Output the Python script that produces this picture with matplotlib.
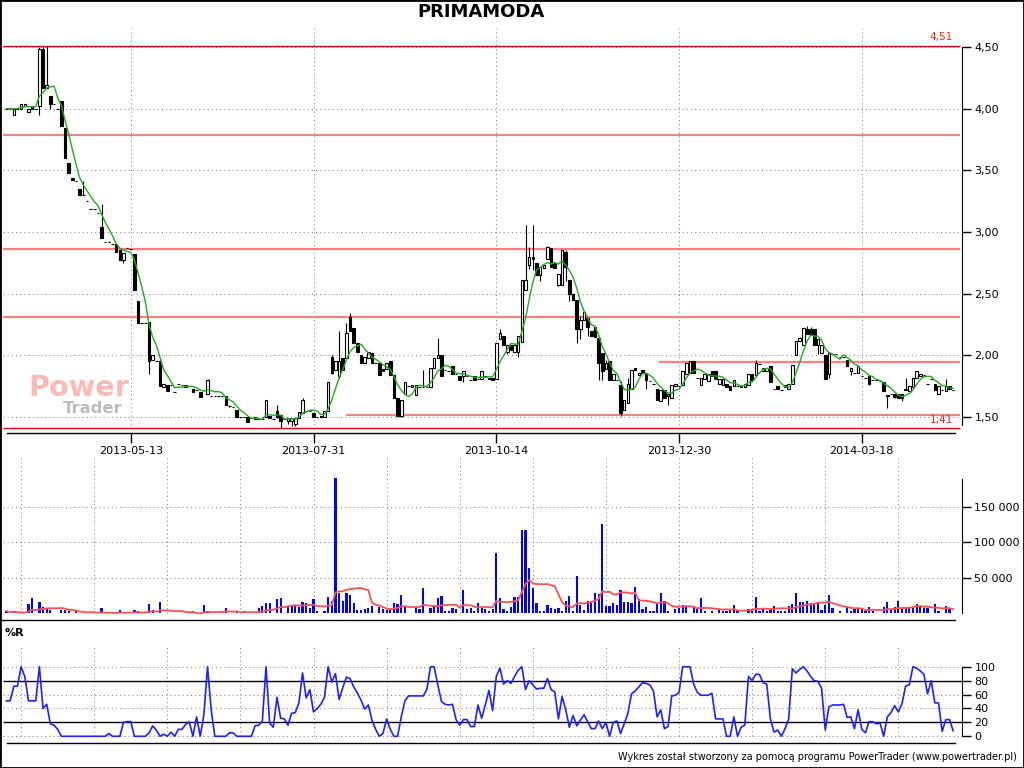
import numpy as np
import pandas as pd
import matplotlib
matplotlib.use('Agg')
import matplotlib.pyplot as plt
from matplotlib.lines import Line2D
from matplotlib.patches import Rectangle

# Daily candles (one per session)
opens = [
    4.00, 4.00, 3.95, 4.00, 4.00, 4.02, 3.97, 4.02, 4.00, 4.02,
    4.48, 4.17, 4.10, 4.04, 4.00, 4.06, 3.84, 3.56, 3.44, 3.41,
    3.35, 3.30, 3.25, 3.19, 3.19, 3.15, 3.04, 2.92, 2.92, 2.90,
    2.90, 2.85, 2.77, 2.87, 2.86, 2.82, 2.44, 2.26, 2.26, 2.27,
    1.96, 1.95, 1.95, 1.74, 1.76, 1.76, 1.70, 1.77, 1.76, 1.74,
    1.75, 1.73, 1.72, 1.70, 1.72, 1.69, 1.67, 1.67, 1.67, 1.67,
    1.67, 1.59, 1.58, 1.56, 1.50, 1.50, 1.50, 1.49, 1.48, 1.48,
    1.48, 1.50, 1.51, 1.48, 1.55, 1.52, 1.48, 1.47, 1.47, 1.44,
    1.49, 1.53, 1.55, 1.55, 1.53, 1.50, 1.51, 1.50, 1.55, 1.99,
    1.88, 1.83, 1.98, 1.98, 2.31, 2.22, 2.10, 2.00, 1.94, 1.98,
    2.02, 1.94, 1.94, 1.89, 1.89, 1.95, 1.84, 1.65, 1.51, 1.69,
    1.75, 1.74, 1.68, 1.74, 1.74, 1.74, 1.74, 1.90, 1.98, 2.00,
    1.88, 1.87, 1.91, 1.85, 1.83, 1.83, 1.83, 1.80, 1.83, 1.81,
    1.81, 1.83, 1.81, 1.82, 1.81, 2.13, 2.16, 2.03, 2.08, 2.03,
    2.03, 2.11, 2.53, 2.73, 2.80, 2.75, 2.65, 2.71, 2.78, 2.87,
    2.75, 2.57, 2.57, 2.84, 2.61, 2.50, 2.45, 2.21, 2.29, 2.30,
    2.20, 2.23, 2.14, 2.02, 1.89, 1.95, 1.80, 1.80, 1.76, 1.56,
    1.61, 1.73, 1.90, 1.84, 1.88, 1.85, 1.79, 1.77, 1.73, 1.63,
    1.72, 1.67, 1.65, 1.75, 1.75, 1.76, 1.85, 1.86, 1.95, 1.82,
    1.76, 1.81, 1.79, 1.87, 1.87, 1.77, 1.76, 1.77, 1.75, 1.75,
    1.75, 1.75, 1.74, 1.76, 1.85, 1.84, 1.93, 1.87, 1.87, 1.91,
    1.73, 1.75, 1.72, 1.74, 1.73, 1.77, 2.00, 2.12, 2.08, 2.21,
    2.21, 2.21, 2.08, 2.02, 2.00, 1.85, 2.01, 2.01, 1.99, 1.99,
    1.96, 1.87, 1.86, 1.86, 1.83, 1.82, 1.83, 1.80, 1.80, 1.79,
    1.78, 1.68, 1.69, 1.69, 1.69, 1.69, 1.72, 1.71, 1.74, 1.82,
    1.83, 1.84, 1.77, 1.81, 1.77, 1.69, 1.72, 1.71, 1.75, 1.72,
]
highs = [
    4.00, 4.00, 4.00, 4.00, 4.04, 4.04, 4.00, 4.02, 4.00, 4.50,
    4.50, 4.51, 4.10, 4.04, 4.00, 4.06, 3.84, 3.56, 3.44, 3.41,
    3.35, 3.41, 3.25, 3.19, 3.19, 3.15, 3.23, 2.92, 2.93, 2.90,
    2.90, 2.85, 2.83, 2.87, 2.86, 2.82, 2.44, 2.26, 2.26, 2.27,
    2.00, 1.95, 1.95, 1.77, 1.76, 1.76, 1.70, 1.77, 1.76, 1.76,
    1.75, 1.73, 1.72, 1.70, 1.72, 1.81, 1.67, 1.67, 1.67, 1.67,
    1.67, 1.60, 1.58, 1.56, 1.50, 1.50, 1.50, 1.49, 1.50, 1.48,
    1.48, 1.64, 1.51, 1.48, 1.60, 1.52, 1.48, 1.49, 1.49, 1.49,
    1.54, 1.65, 1.55, 1.55, 1.53, 1.50, 1.51, 1.55, 1.78, 2.00,
    1.95, 2.20, 1.98, 2.26, 2.34, 2.22, 2.10, 2.00, 1.99, 2.03,
    2.02, 1.94, 1.94, 1.89, 1.94, 1.95, 1.84, 1.65, 1.64, 1.78,
    1.75, 1.76, 1.76, 1.74, 1.88, 1.74, 1.90, 1.98, 2.14, 2.00,
    1.88, 1.87, 1.91, 1.85, 1.83, 1.87, 1.83, 1.80, 1.83, 1.81,
    1.87, 1.83, 1.82, 1.82, 2.10, 2.21, 2.16, 2.08, 2.08, 2.08,
    2.16, 2.61, 3.06, 2.88, 3.06, 2.75, 2.72, 2.73, 2.89, 2.87,
    2.75, 2.66, 2.85, 2.85, 2.61, 2.50, 2.45, 2.32, 2.35, 2.30,
    2.20, 2.23, 2.14, 2.02, 1.96, 1.95, 1.85, 1.80, 1.79, 1.64,
    1.82, 1.88, 1.90, 1.86, 1.88, 1.85, 1.79, 1.77, 1.73, 1.72,
    1.72, 1.69, 1.76, 1.77, 1.75, 1.87, 1.94, 1.95, 1.95, 1.82,
    1.82, 1.85, 1.85, 1.87, 1.87, 1.81, 1.81, 1.77, 1.75, 1.80,
    1.75, 1.75, 1.77, 1.85, 1.85, 1.96, 1.93, 1.90, 1.90, 1.91,
    1.73, 1.75, 1.72, 1.76, 1.77, 1.92, 2.12, 2.15, 2.22, 2.24,
    2.23, 2.21, 2.13, 2.08, 2.00, 2.02, 2.01, 2.01, 1.99, 1.99,
    1.96, 1.90, 1.86, 1.91, 1.83, 1.82, 1.83, 1.80, 1.80, 1.79,
    1.78, 1.68, 1.69, 1.69, 1.69, 1.69, 1.82, 1.75, 1.82, 1.87,
    1.85, 1.84, 1.77, 1.81, 1.77, 1.75, 1.72, 1.81, 1.75, 1.72,
]
lows = [
    4.00, 4.00, 3.95, 4.00, 4.00, 4.02, 3.97, 4.00, 4.00, 3.95,
    4.17, 4.17, 4.00, 4.04, 4.00, 3.86, 3.60, 3.48, 3.42, 3.41,
    3.30, 3.30, 3.25, 3.19, 3.19, 3.15, 2.95, 2.92, 2.92, 2.90,
    2.84, 2.77, 2.75, 2.87, 2.86, 2.53, 2.26, 2.26, 2.26, 1.85,
    1.96, 1.95, 1.75, 1.74, 1.71, 1.76, 1.70, 1.77, 1.76, 1.74,
    1.75, 1.70, 1.72, 1.66, 1.72, 1.69, 1.67, 1.67, 1.67, 1.67,
    1.60, 1.58, 1.58, 1.50, 1.50, 1.50, 1.46, 1.49, 1.48, 1.48,
    1.48, 1.50, 1.49, 1.48, 1.49, 1.41, 1.48, 1.44, 1.43, 1.43,
    1.49, 1.53, 1.55, 1.55, 1.50, 1.50, 1.50, 1.50, 1.55, 1.85,
    1.88, 1.82, 1.88, 1.98, 2.20, 2.10, 2.03, 1.94, 1.94, 1.98,
    1.94, 1.94, 1.84, 1.87, 1.89, 1.84, 1.65, 1.51, 1.50, 1.69,
    1.75, 1.74, 1.68, 1.74, 1.74, 1.74, 1.74, 1.90, 1.98, 1.83,
    1.88, 1.87, 1.85, 1.85, 1.80, 1.78, 1.83, 1.80, 1.80, 1.81,
    1.81, 1.83, 1.81, 1.80, 1.81, 2.13, 2.08, 2.01, 2.04, 2.03,
    1.99, 2.11, 2.53, 2.70, 2.69, 2.65, 2.60, 2.71, 2.78, 2.72,
    2.71, 2.56, 2.57, 2.60, 2.44, 2.45, 2.10, 2.13, 2.29, 2.16,
    2.16, 2.15, 1.80, 1.80, 1.89, 1.80, 1.80, 1.80, 1.51, 1.56,
    1.61, 1.73, 1.88, 1.84, 1.86, 1.73, 1.79, 1.77, 1.64, 1.63,
    1.65, 1.60, 1.65, 1.75, 1.75, 1.76, 1.85, 1.86, 1.86, 1.82,
    1.76, 1.81, 1.79, 1.83, 1.81, 1.77, 1.76, 1.74, 1.72, 1.75,
    1.75, 1.74, 1.74, 1.76, 1.80, 1.84, 1.93, 1.87, 1.87, 1.78,
    1.73, 1.73, 1.72, 1.74, 1.73, 1.77, 2.00, 2.12, 2.08, 2.17,
    2.17, 2.08, 2.01, 2.02, 1.81, 1.82, 2.01, 2.01, 1.99, 1.99,
    1.91, 1.84, 1.86, 1.86, 1.83, 1.82, 1.76, 1.80, 1.80, 1.79,
    1.71, 1.57, 1.69, 1.65, 1.65, 1.63, 1.72, 1.71, 1.74, 1.82,
    1.83, 1.84, 1.77, 1.81, 1.72, 1.69, 1.72, 1.71, 1.73, 1.72,
]
closes = [
    4.00, 4.00, 4.00, 4.00, 4.04, 4.04, 4.00, 4.00, 4.00, 4.48,
    4.17, 4.19, 4.04, 4.04, 4.00, 3.86, 3.60, 3.48, 3.42, 3.41,
    3.30, 3.30, 3.25, 3.19, 3.19, 3.15, 2.95, 2.92, 2.92, 2.90,
    2.84, 2.77, 2.83, 2.87, 2.86, 2.53, 2.26, 2.26, 2.26, 1.95,
    2.00, 1.95, 1.75, 1.77, 1.71, 1.76, 1.70, 1.77, 1.76, 1.76,
    1.75, 1.70, 1.72, 1.66, 1.72, 1.80, 1.67, 1.67, 1.67, 1.67,
    1.60, 1.59, 1.58, 1.50, 1.50, 1.50, 1.46, 1.49, 1.50, 1.48,
    1.48, 1.64, 1.49, 1.48, 1.50, 1.47, 1.48, 1.49, 1.49, 1.49,
    1.54, 1.64, 1.55, 1.55, 1.50, 1.50, 1.50, 1.55, 1.78, 1.86,
    1.95, 1.95, 1.88, 2.18, 2.20, 2.10, 2.03, 1.94, 1.99, 2.03,
    1.94, 1.94, 1.84, 1.87, 1.94, 1.84, 1.65, 1.51, 1.64, 1.78,
    1.75, 1.76, 1.76, 1.74, 1.74, 1.74, 1.90, 1.98, 2.00, 1.83,
    1.88, 1.87, 1.85, 1.85, 1.80, 1.87, 1.83, 1.80, 1.80, 1.81,
    1.87, 1.83, 1.82, 1.80, 2.10, 2.18, 2.08, 2.08, 2.04, 2.08,
    2.16, 2.61, 2.61, 2.80, 2.78, 2.65, 2.72, 2.73, 2.88, 2.72,
    2.71, 2.66, 2.85, 2.72, 2.50, 2.45, 2.21, 2.29, 2.35, 2.23,
    2.16, 2.15, 1.94, 1.87, 1.94, 1.80, 1.85, 1.80, 1.53, 1.64,
    1.77, 1.88, 1.88, 1.86, 1.86, 1.80, 1.79, 1.77, 1.64, 1.72,
    1.65, 1.69, 1.76, 1.77, 1.75, 1.87, 1.94, 1.95, 1.86, 1.82,
    1.82, 1.85, 1.85, 1.83, 1.81, 1.81, 1.81, 1.74, 1.72, 1.80,
    1.75, 1.74, 1.77, 1.85, 1.80, 1.94, 1.93, 1.90, 1.90, 1.78,
    1.73, 1.73, 1.72, 1.76, 1.77, 1.92, 2.12, 2.14, 2.22, 2.17,
    2.17, 2.08, 2.13, 2.08, 1.81, 2.02, 2.01, 2.01, 1.99, 1.99,
    1.91, 1.90, 1.86, 1.91, 1.83, 1.82, 1.77, 1.80, 1.80, 1.79,
    1.71, 1.67, 1.69, 1.66, 1.65, 1.65, 1.73, 1.75, 1.82, 1.87,
    1.85, 1.84, 1.77, 1.81, 1.72, 1.75, 1.72, 1.75, 1.73, 1.72,
]
volumes = [
    3500, 0, 3500, 0, 0, 0, 13400, 21800, 0, 16200,
    9150, 7750, 4900, 0, 0, 4900, 4900, 3500, 0, 3500,
    0, 0, 0, 0, 0, 0, 7700, 0, 0, 0,
    0, 4900, 0, 0, 0, 4900, 3500, 0, 0, 13400,
    4900, 0, 16200, 0, 0, 0, 0, 0, 0, 0,
    0, 3500, 0, 0, 12000, 3500, 0, 0, 0, 3500,
    7700, 0, 0, 3500, 0, 3500, 0, 0, 0, 7700,
    10600, 14800, 14800, 0, 20400, 21800, 0, 10600, 10600, 10600,
    9150, 16200, 14800, 7700, 20400, 3500, 0, 3500, 23200, 17600,
    191300, 28900, 17600, 28900, 26000, 14800, 4900, 4900, 6300, 7700,
    10600, 0, 9150, 6300, 4900, 6300, 14800, 13400, 26000, 10600,
    0, 0, 9150, 6300, 35900, 0, 7700, 10600, 21800, 24600,
    3500, 3500, 7700, 6300, 0, 33100, 6300, 7700, 3500, 14800,
    7700, 6300, 3500, 6300, 85200, 21800, 6300, 3500, 9150, 23200,
    23200, 117600, 117600, 64100, 35900, 14800, 3500, 3500, 12000, 7700,
    6300, 7700, 3500, 17600, 24600, 3500, 52800, 12000, 4900, 17600,
    16200, 28900, 27500, 126000, 10600, 10600, 14800, 12000, 33100, 16200,
    16200, 14800, 37300, 20400, 6300, 9150, 3500, 3500, 14800, 28900,
    17600, 3500, 0, 6300, 7700, 12000, 9150, 0, 10600, 6300,
    21800, 3500, 0, 3500, 0, 6300, 3500, 3500, 6300, 12000,
    3500, 0, 0, 6300, 6300, 23200, 3500, 7700, 3500, 6300,
    10600, 3500, 3500, 3500, 10600, 13400, 28900, 16200, 16200, 17600,
    14800, 14800, 14800, 4900, 12000, 26000, 7700, 0, 3500, 0,
    9150, 3500, 6300, 6300, 7700, 3500, 9150, 3500, 0, 0,
    9150, 16200, 6300, 9150, 17600, 7700, 7700, 7700, 7700, 13400,
    10600, 7700, 7700, 0, 13400, 3500, 0, 10600, 7700, 0,
]
williams_r = [
    51, 51, 72, 72, 100, 86, 51, 51, 51, 100,
    40, 46, 18, 16, 10, 0, 0, 0, 0, 0,
    0, 0, 0, 0, 0, 0, 0, 0, 4, 0,
    0, 0, 20, 21, 21, 0, 0, 0, 0, 5,
    15, 9, 0, 3, 0, 6, 0, 10, 10, 17,
    21, 0, 28, 0, 31, 100, 38, 0, 0, 0,
    0, 5, 5, 0, 0, 0, 0, 0, 15, 16,
    22, 100, 19, 13, 56, 26, 25, 16, 33, 34,
    48, 91, 55, 67, 35, 40, 46, 56, 100, 78,
    90, 53, 70, 85, 83, 71, 62, 52, 39, 45,
    23, 10, 0, 4, 25, 10, 0, 0, 28, 51,
    58, 58, 58, 58, 58, 67, 100, 100, 74, 50,
    46, 45, 46, 24, 16, 24, 24, 14, 14, 45,
    26, 45, 66, 37, 86, 98, 75, 80, 76, 86,
    95, 100, 67, 80, 74, 68, 69, 69, 83, 67,
    64, 25, 57, 38, 13, 30, 15, 23, 31, 21,
    11, 11, 22, 11, 20, 0, 20, 22, 4, 18,
    33, 61, 65, 71, 77, 76, 74, 65, 28, 38,
    11, 14, 58, 59, 63, 100, 100, 100, 75, 63,
    59, 59, 59, 62, 25, 25, 25, 0, 0, 28,
    0, 13, 16, 86, 80, 89, 89, 77, 75, 25,
    6, 9, 0, 11, 25, 97, 91, 96, 100, 94,
    86, 80, 79, 69, 9, 42, 45, 45, 45, 46,
    27, 28, 11, 38, 10, 5, 21, 21, 18, 19,
    0, 28, 34, 44, 35, 47, 72, 74, 100, 98,
    94, 89, 61, 80, 48, 48, 7, 24, 24, 8,
]

date_labels = ['2013-05-13', '2013-07-31', '2013-10-14', '2013-12-30', '2014-03-18']
date_idx = [34, 84, 134, 184, 234]
price_ticks = [1.5, 2.0, 2.5, 3.0, 3.5, 4.0, 4.5]
vol_ticks = [50000, 100000, 150000]
r_ticks = [0, 20, 40, 60, 80, 100]

# user drawn levels: (price, first bar)
full_levels = [3.79, 2.865, 2.31]
partial_levels = [(1.945, 178.6), (1.516, 92.8)]
max_price, min_price = 4.51, 1.41

opens = np.array(opens)
highs = np.array(highs)
lows = np.array(lows)
closes = np.array(closes)
volumes = np.array(volumes)
n = len(closes)
x = np.arange(n)

price_ma = pd.Series(closes).rolling(5, min_periods=1).mean()
vol_ma = pd.Series(volumes).rolling(10, min_periods=1).mean()

W, H = 1024, 768
XL = (-0.96, 261.42)
XEND = 260.9
dotted = (0, (1, 3))
gridc = '#808080'


def fx(px):
    return px / W


def fy(py):
    return 1 - py / H


def pix_axes(fig, left, top, right, bottom):
    ax = fig.add_axes([fx(left), fy(bottom), (right - left) / W, (bottom - top) / H])
    ax.patch.set_visible(False)
    for s in ['left', 'top', 'bottom']:
        ax.spines[s].set_visible(False)
    ax.set_xlim(*XL)
    ax.yaxis.tick_right()
    ax.tick_params(axis='y', direction='out', length=6.5, width=1, pad=2.5, labelsize=8)
    return ax


fig = plt.figure(figsize=(10.24, 7.68), dpi=100)

# ---- price panel
ax = pix_axes(fig, 3, 28, 962, 433)
ax.set_ylim(1.3702, 4.654)
ax.hlines(price_ticks, XL[0], XEND, colors=gridc, linestyles=dotted, lw=0.75, zorder=1)
ax.vlines(date_idx, 1.3702, 4.654, colors=gridc, linestyles=dotted, lw=0.75, zorder=1)
ax.hlines(full_levels, XL[0], XEND, colors='#ff8080', lw=1.6, zorder=2)
for lvl, start in partial_levels:
    ax.hlines(lvl, start, XEND, colors='#ff8080', lw=1.6, zorder=2)
ax.hlines([max_price, min_price], XL[0], XEND, colors='#e00000', lw=1, zorder=2)
ax.annotate('4,51', (258.96, max_price), xytext=(0, 2.5), textcoords='offset points',
            ha='right', va='bottom', color='#ff2020', fontsize=7.5)
ax.annotate('1,41', (258.96, min_price), xytext=(0, 2.5), textcoords='offset points',
            ha='right', va='bottom', color='#ff2020', fontsize=7.5)

ax.text(fx(28), fy(396), 'Power', transform=fig.transFigure, fontsize=20.7,
        fontweight='bold', color='#ffb8b8', zorder=1.5)
ax.text(fx(63), fy(413), 'Trader', transform=fig.transFigure, fontsize=11.8,
        fontweight='bold', color='#bcbcbc', zorder=1.5)

ax.vlines(x, lows, highs, color='black', lw=0.8, zorder=3)
up = closes >= opens
ax.bar(x[up], (closes - opens)[up], bottom=opens[up], width=0.7,
       facecolor='white', edgecolor='black', lw=0.8, zorder=4)
ax.bar(x[~up], (opens - closes)[~up], bottom=closes[~up], width=0.7,
       facecolor='black', edgecolor='black', lw=0.8, zorder=4)
ax.plot(x, price_ma, color='#22aa22', lw=1, zorder=5)

ax.spines['right'].set_bounds(1.435, 4.5)
ax.set_yticks(price_ticks)
ax.set_yticklabels([f'{v:.2f}'.replace('.', ',') for v in price_ticks])
ax.set_xticks(date_idx)
ax.set_xticklabels(date_labels)
ax.tick_params(axis='x', direction='out', length=7, width=1, pad=2, labelsize=8)

# ---- volume panel
av = pix_axes(fig, 3, 458, 962, 620)
av.set_ylim(-9155, 219014)
vgrid = np.arange(4, 260, 20)
av.vlines(vgrid, 0, 219014, colors=gridc, linestyles=dotted, lw=0.75, zorder=1)
av.hlines(vol_ticks, XL[0], XL[1], colors=gridc, linestyles=dotted, lw=0.75, zorder=1)
av.bar(x, volumes, width=0.6, color='#0000ff', zorder=3)
av.plot(x, vol_ma, color='#ff5050', lw=1.3, zorder=4)
av.spines['right'].set_bounds(0, 190000)
av.set_yticks(vol_ticks)
av.set_yticklabels([f'{v:,}'.replace(',', ' ') for v in vol_ticks])
av.set_xticks([])

# ---- %R panel
ar = pix_axes(fig, 3, 621, 962, 743)
ar.set_ylim(-9.63, 165.7)
ar.vlines(vgrid, 0, 130, colors=gridc, linestyles=dotted, lw=0.75, zorder=1)
ar.hlines([0, 40, 60, 100], XL[0], XL[1], colors=gridc, linestyles=dotted, lw=0.75, zorder=1)
ar.hlines([20, 80], XL[0], XL[1], colors='black', lw=1, zorder=2)
ar.plot(x, williams_r, color='#2020ff', lw=1.2, zorder=3)
ar.spines['right'].set_bounds(0, 100)
ar.set_yticks(r_ticks)
ar.set_yticklabels([str(v) for v in r_ticks])
ar.set_xticks([])

# ---- frame lines and texts
for (x0, x1, yy) in [(7, 955, 433), (0, 955, 620), (7, 955, 743)]:
    fig.add_artist(Line2D([fx(x0), fx(x1)], [fy(yy), fy(yy)], transform=fig.transFigure,
                          color='black', lw=1))
fig.add_artist(Rectangle((0, 0), 1, 1, transform=fig.transFigure, fill=False,
                         edgecolor='black', lw=2))

fig.text(fx(481), fy(12), 'PRIMAMODA', ha='center', va='center', fontsize=13, fontweight='bold')
fig.text(fx(5), fy(633), '%R', ha='left', va='center', fontsize=8, fontweight='bold')
fig.text(fx(1017), fy(757), 'Wykres został stworzony za pomocą programu PowerTrader (www.powertrader.pl)',
         ha='right', va='center', fontsize=7)

fig.savefig('out.png', dpi=100)
